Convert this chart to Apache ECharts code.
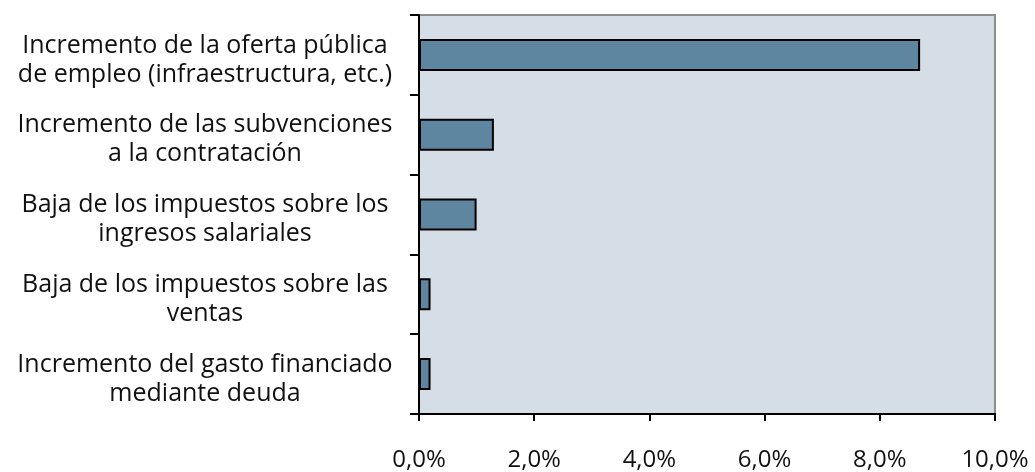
<!DOCTYPE html>
<html>
<head>
<meta charset="utf-8">
<script src="https://cdn.jsdelivr.net/npm/echarts@6/dist/echarts.min.js"></script>
<style>
  html, body { margin: 0; padding: 0; background: #fff; }
  #chart { width: 1035px; height: 472px; }
</style>
</head>
<body>
<div id="chart"></div>
<script>
const categories = [
  'Incremento de la oferta pública\nde empleo (infraestructura, etc.)',
  'Incremento de las subvenciones\na la contratación',
  'Baja de los impuestos sobre los\ningresos salariales',
  'Baja de los impuestos sobre las\nventas',
  'Incremento del gasto financiado\nmediante deuda',
];
const values = [8.7, 1.3, 1.0, 0.2, 0.2];
const xTicks = [0, 2, 4, 6, 8, 10];

const fmtPct = (v) => v.toFixed(1).replace('.', ',') + '%';

// each line gets a top padding so the two-line block sits a bit lower
const fmtCat = (v) => v.split('\n').map((s) => `{c|${s}}`).join('\n');

const option = {
  animation: false,
  textStyle: { fontFamily: 'Open Sans' },
  grid: {
    left: 419,
    right: 40,
    top: 15,
    bottom: 55,
    show: true,
    backgroundColor: '#d5dee7',
    borderColor: '#8c8c8c',
    borderWidth: 2,
  },
  xAxis: {
    type: 'value',
    min: xTicks[0],
    max: xTicks[xTicks.length - 1],
    interval: 2,
    splitLine: { show: false },
    axisLine: { show: true, lineStyle: { color: '#000', width: 2 } },
    axisTick: { show: true, length: 7, lineStyle: { color: '#000', width: 2 } },
    axisLabel: {
      formatter: fmtPct,
      color: '#111',
      fontSize: 24,
      margin: 34,
    },
  },
  yAxis: {
    type: 'category',
    inverse: true,
    data: categories,
    axisLine: { show: true, lineStyle: { color: '#000', width: 2 } },
    axisTick: { show: true, length: 9, lineStyle: { color: '#000', width: 2 } },
    axisLabel: {
      formatter: fmtCat,
      align: 'center',
      margin: 214,
      rich: {
        c: {
          fontFamily: 'Open Sans',
          fontSize: 25,
          lineHeight: 29,
          color: '#111',
          padding: [10, 0, 0, 0],
        },
      },
    },
  },
  series: [
    {
      type: 'bar',
      data: values,
      barWidth: 32,
      itemStyle: {
        color: '#5f86a0',
        borderColor: '#000',
        borderWidth: 2,
      },
    },
  ],
};

const chart = echarts.init(document.getElementById('chart'));
chart.setOption(option);
</script>
</body>
</html>
